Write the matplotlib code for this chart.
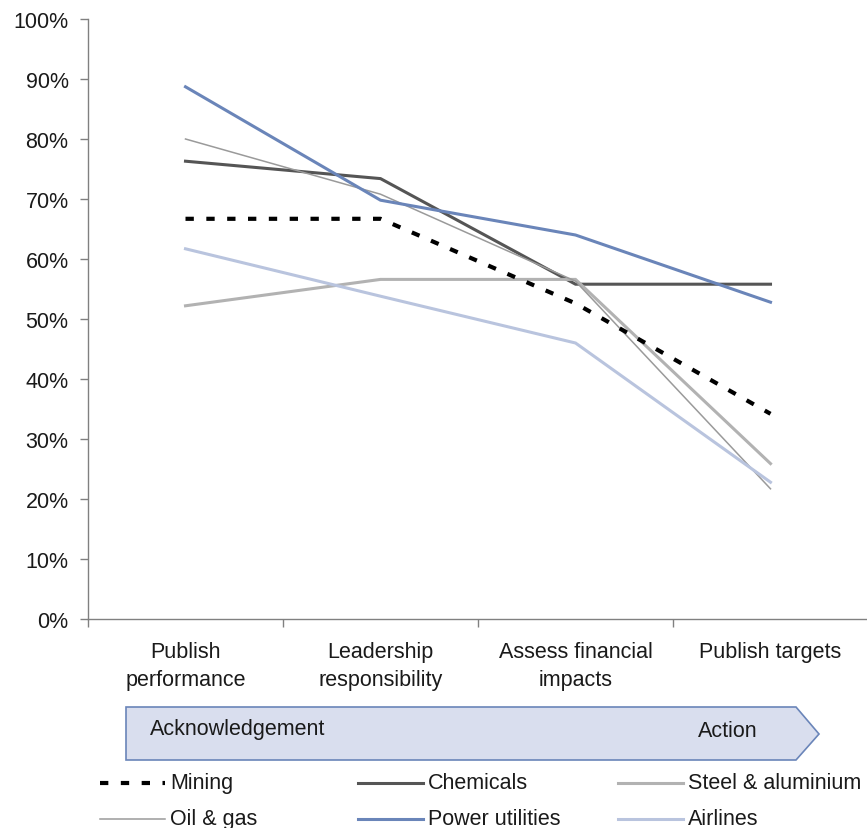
import matplotlib
matplotlib.use('Agg')
import matplotlib.pyplot as plt
from matplotlib.patches import Polygon
from matplotlib.lines import Line2D

categories = ['Publish\nperformance', 'Leadership\nresponsibility',
              'Assess financial\nimpacts', 'Publish targets']
mining = [66.7, 66.7, 52.6, 34.2]
chemicals = [76.3, 73.4, 55.8, 55.8]
steel = [52.2, 56.6, 56.6, 25.9]
oil_gas = [80.0, 70.8, 56.3, 21.7]
power = [88.7, 69.8, 64.0, 52.8]
airlines = [61.7, 53.8, 46.0, 22.8]

# name, values, color, linewidth, dashes
series = [
    ('Mining', mining, 'black', 3.0, (2, 3)),
    ('Chemicals', chemicals, '#555555', 2.2, None),
    ('Steel & aluminium', steel, '#b2b2b2', 2.2, None),
    ('Oil & gas', oil_gas, '#9a9a9a', 1.1, None),
    ('Power utilities', power, '#6a85b9', 2.2, None),
    ('Airlines', airlines, '#b9c4de', 2.2, None),
]

plt.rcParams['font.family'] = ['Liberation Sans', 'DejaVu Sans']
FS = 15.5

W, H = 867, 829
fig = plt.figure(figsize=(W / 100, H / 100), dpi=100)
ax = fig.add_axes([88 / W, 1 - 620 / H, (868 - 88) / W, 600 / H])

x = list(range(len(categories)))
for i, (name, vals, col, lw, dash) in enumerate(series):
    ln, = ax.plot(x, [v / 100 for v in vals], color=col, lw=lw,
                  solid_joinstyle='miter', zorder=3 if dash is None else 4)
    if dash is not None:
        ln.set_dashes(dash)
        ln.set_dash_capstyle('butt')

ax.set_xlim(-0.5, 3.5)
ax.set_ylim(0, 1)
ax.set_yticks([i / 10 for i in range(11)])
ax.set_yticklabels(['%d%%' % (i * 10) for i in range(11)])
ax.set_xticks([i - 0.5 for i in range(5)])
ax.set_xticklabels([])
ax.set_xticks(x, minor=True)
ax.set_xticklabels(categories, minor=True, fontsize=FS, color='#1a1a1a',
                   linespacing=1.45)
ax.tick_params(axis='x', which='minor', length=0, pad=16)
ax.tick_params(axis='both', which='major', length=6, width=1, color='#808080')
ax.tick_params(axis='y', labelsize=FS, labelcolor='#1a1a1a', pad=8)
for s in ['top', 'right']:
    ax.spines[s].set_visible(False)
for s in ['left', 'bottom']:
    ax.spines[s].set_color('#808080')
    ax.spines[s].set_linewidth(1)

# arrow banner
pts = [(126, 708), (796, 708), (819, 735), (796, 761), (126, 761)]
poly = Polygon([(px / W, 1 - py / H) for px, py in pts], closed=True,
               transform=fig.transFigure, facecolor='#d9deee',
               edgecolor='#6a85b9', lw=1.2)
fig.patches.append(poly)
fig.text(150 / W, 1 - 730 / H, 'Acknowledgement', fontsize=FS,
         va='center', ha='left', color='#1a1a1a')
fig.text(698 / W, 1 - 732 / H, 'Action', fontsize=FS,
         va='center', ha='left', color='#1a1a1a')

# legend, row-wise in three columns
col_x = [100, 358, 618]
row_y = [784, 820]
for i, (name, vals, col, lw, dash) in enumerate(series):
    cx = col_x[i % 3]
    cy = 1 - row_y[i // 3] / H
    ln = Line2D([cx / W, (cx + 65) / W], [cy, cy], transform=fig.transFigure,
                color=col, lw=lw)
    if dash is not None:
        ln.set_dashes(dash)
        ln.set_dash_capstyle('butt')
    fig.lines.append(ln)
    fig.text((cx + 70) / W, cy, name, fontsize=FS, va='center', ha='left',
             color='#1a1a1a')

fig.savefig('out.png', dpi=100)
